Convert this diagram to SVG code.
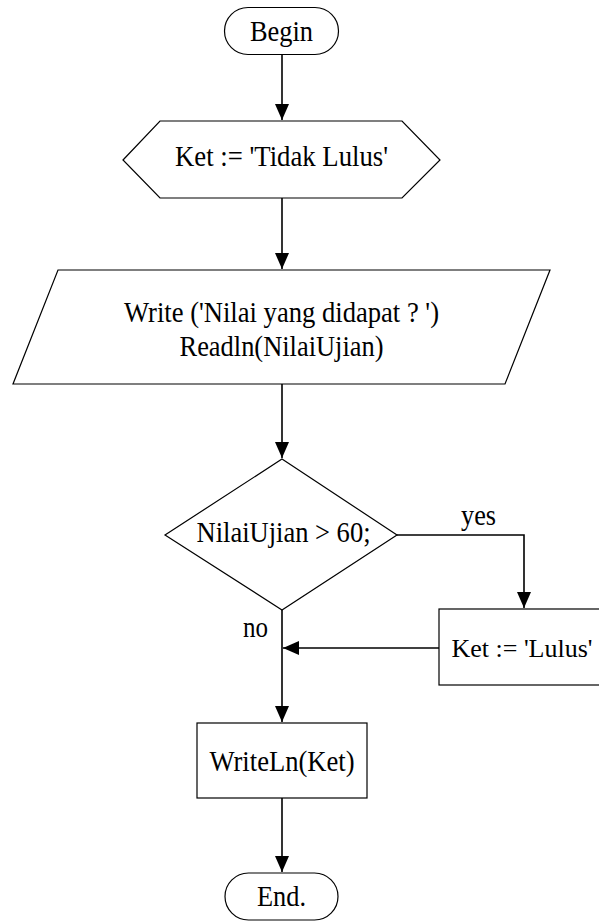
<svg xmlns="http://www.w3.org/2000/svg" width="599" height="921" viewBox="0 0 599 921">
<style>
.s{fill:#fff;stroke:#000;stroke-width:1.2}
.t{font-family:"Liberation Serif","Times New Roman",Times,serif;font-size:28.5px;fill:#000;text-anchor:middle}
.c{fill:none;stroke:#000;stroke-width:1.6}
</style>
<defs>
<marker id="ah" markerUnits="userSpaceOnUse" markerWidth="16" markerHeight="14" refX="16" refY="7" orient="auto">
<path d="M0,0 L16,7 L0,14 z" fill="#000"/>
</marker>
</defs>
<rect width="599" height="921" fill="#fff"/>
<g id="connectors">
<path class="c" d="M282,54 V120" marker-end="url(#ah)"/>
<path class="c" d="M282,198 V269" marker-end="url(#ah)"/>
<path class="c" d="M282,384 V458" marker-end="url(#ah)"/>
<path class="c" d="M397,535 H524 V608" marker-end="url(#ah)"/>
<path class="c" d="M282,610 V722" marker-end="url(#ah)"/>
<path class="c" d="M439,648 H283" marker-end="url(#ah)"/>
<path class="c" d="M282,798 V872" marker-end="url(#ah)"/>
<text class="t" x="478.5" y="525" textLength="35" lengthAdjust="spacingAndGlyphs">yes</text>
<text class="t" x="255.5" y="637" textLength="25" lengthAdjust="spacingAndGlyphs">no</text>
</g>
<g id="begin">
<rect class="s" x="224.5" y="7.5" width="114" height="47" rx="23.5"/>
<text class="t" x="281.5" y="40.5" textLength="63" lengthAdjust="spacingAndGlyphs">Begin</text>
</g>
<g id="init">
<polygon class="s" points="123,160 160,121 402,121 440,160 402,198 160,198"/>
<text class="t" x="281.5" y="166" textLength="213" lengthAdjust="spacingAndGlyphs">Ket := 'Tidak Lulus'</text>
</g>
<g id="input">
<polygon class="s" points="58,270 550,270 505,384 13,384"/>
<text class="t" x="281.5" y="322" textLength="315" lengthAdjust="spacingAndGlyphs">Write ('Nilai yang didapat ? ')</text>
<text class="t" x="281.5" y="356" textLength="204" lengthAdjust="spacingAndGlyphs">Readln(NilaiUjian)</text>
</g>
<g id="decision">
<polygon class="s" points="282,459 397,535 282,610 165,535"/>
<text class="t" x="283.5" y="542" textLength="174" lengthAdjust="spacingAndGlyphs">NilaiUjian &gt; 60;</text>
</g>
<g id="lulus">
<rect class="s" x="439" y="609" width="170" height="76"/>
<text class="t" x="522" y="657" style="font-size:26px">Ket := 'Lulus'</text>
</g>
<g id="write">
<rect class="s" x="197" y="723" width="170" height="75"/>
<text class="t" x="282" y="771" textLength="145" lengthAdjust="spacingAndGlyphs">WriteLn(Ket)</text>
</g>
<g id="end">
<rect class="s" x="225" y="873" width="113" height="47" rx="23.5"/>
<text class="t" x="281.5" y="906" textLength="49" lengthAdjust="spacingAndGlyphs">End.</text>
</g>
</svg>
